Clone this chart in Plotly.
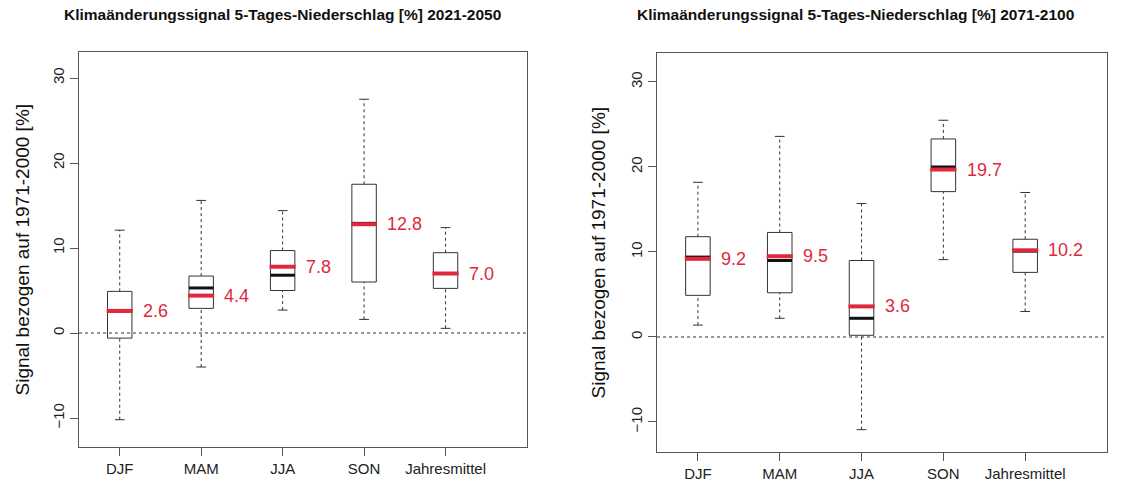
import plotly.graph_objects as go

W, H = 1133, 483

categories = ["DJF", "MAM", "JJA", "SON", "Jahresmittel"]
titles = ["Klimaänderungssignal 5-Tages-Niederschlag [%] 2021-2050",
          "Klimaänderungssignal 5-Tages-Niederschlag [%] 2071-2100"]
ylabel = "Signal bezogen auf 1971-2000 [%]"
yticks = [-10, 0, 10, 20, 30]

# 2021-2050
lo1 = [-10.2, -4.0, 2.7, 1.6, 0.55]
q1_1 = [-0.6, 2.9, 5.0, 6.0, 5.25]
med1 = [2.6, 5.3, 6.8, 12.9, 7.0]
q3_1 = [4.9, 6.7, 9.7, 17.5, 9.45]
hi1 = [12.1, 15.6, 14.4, 27.5, 12.4]
mean1 = [2.6, 4.4, 7.8, 12.8, 7.0]

# 2071-2100
lo2 = [1.4, 2.2, -10.9, 9.1, 3.0]
q1_2 = [4.9, 5.2, 0.2, 17.1, 7.6]
med2 = [9.4, 9.0, 2.2, 20.0, 10.1]
q3_2 = [11.8, 12.3, 9.0, 23.3, 11.5]
hi2 = [18.2, 23.6, 15.7, 25.5, 17.0]
mean2 = [9.2, 9.5, 3.6, 19.7, 10.2]

panels = [
    dict(lo=lo1, q1=q1_1, med=med1, q3=q3_1, hi=hi1, mean=mean1,
         xd=[79 / W, 527 / W], yd=[(H - 447) / H, (H - 52) / H], yr=[-13.41, 33.06],
         title_x=282 / W, ylab_x=22 / W),
    dict(lo=lo2, q1=q1_2, med=med2, q3=q3_2, hi=hi2, mean=mean2,
         xd=[657 / W, 1107 / W], yd=[(H - 452) / H, (H - 53) / H], yr=[-13.53, 33.41],
         title_x=855 / W, ylab_x=598 / W),
]

FONT = "Liberation Sans, Arial, Helvetica, sans-serif"
RED = "#e0283c"
DARK = "#333333"
BW = 0.15   # box half width
CW = 0.06   # cap half width
RW = 0.16   # red line half width

fig = go.Figure()
annotations = []
shapes = []

for k, p in enumerate(panels):
    xa = "x" if k == 0 else "x2"
    ya = "y" if k == 0 else "y2"
    xs = range(1, len(categories) + 1)
    wx, wy, cx, cy, bx, by, mx, my, rx, ry = [], [], [], [], [], [], [], [], [], []
    for i, lo, q1, md, q3, hi, mn in zip(xs, p["lo"], p["q1"], p["med"], p["q3"], p["hi"], p["mean"]):
        wx += [i, i, None, i, i, None]
        wy += [lo, q1, None, q3, hi, None]
        cx += [i - CW, i + CW, None, i - CW, i + CW, None]
        cy += [lo, lo, None, hi, hi, None]
        bx += [i - BW, i + BW, i + BW, i - BW, i - BW, None]
        by += [q1, q1, q3, q3, q1, None]
        mx += [i - BW, i + BW, None]
        my += [md, md, None]
        rx += [i - RW, i + RW, None]
        ry += [mn, mn, None]
        annotations.append(dict(x=i + 0.26, y=mn, xref=xa, yref=ya, text=f"{mn:.1f}",
                                showarrow=False, xanchor="left", yanchor="middle",
                                font=dict(family=FONT, size=18, color=RED)))
    fig.add_trace(go.Scatter(x=wx, y=wy, xaxis=xa, yaxis=ya, mode="lines",
                             line=dict(color=DARK, width=1, dash="3px,3px"), hoverinfo="skip"))
    fig.add_trace(go.Scatter(x=cx, y=cy, xaxis=xa, yaxis=ya, mode="lines",
                             line=dict(color=DARK, width=1), hoverinfo="skip"))
    fig.add_trace(go.Scatter(x=bx, y=by, xaxis=xa, yaxis=ya, mode="lines",
                             line=dict(color=DARK, width=1), hoverinfo="skip"))
    fig.add_trace(go.Scatter(x=mx, y=my, xaxis=xa, yaxis=ya, mode="lines",
                             line=dict(color="#111111", width=3), hoverinfo="skip"))
    fig.add_trace(go.Scatter(x=rx, y=ry, xaxis=xa, yaxis=ya, mode="lines",
                             line=dict(color=RED, width=4), hoverinfo="skip"))
    # zero line
    shapes.append(dict(type="line", xref=f"{xa} domain", yref=ya, x0=0, x1=1, y0=0, y1=0,
                       line=dict(color=DARK, width=1, dash="3px,3px")))
    # titles
    annotations.append(dict(x=p["title_x"], y=1 - 15 / H, xref="paper", yref="paper",
                            text=f"<b>{titles[k]}</b>", showarrow=False,
                            xanchor="center", yanchor="middle",
                            font=dict(family=FONT, size=15.5, color="#111111")))
    annotations.append(dict(x=p["ylab_x"], y=(p["yd"][0] + p["yd"][1]) / 2, xref="paper", yref="paper",
                            text=ylabel, textangle=-90, showarrow=False,
                            xanchor="center", yanchor="middle",
                            font=dict(family=FONT, size=19, color="#111111")))

axis_common = dict(showgrid=False, zeroline=False, showline=True, mirror=True,
                   linecolor="#555555", linewidth=1, ticks="outside", tickcolor="#555555",
                   ticklen=8, tickfont=dict(family=FONT, size=15, color="#222222"))

layout = dict(
    width=W, height=H, margin=dict(l=0, r=0, t=0, b=0),
    plot_bgcolor="white", paper_bgcolor="white", showlegend=False,
    annotations=annotations, shapes=shapes,
)
for k, p in enumerate(panels):
    sx = "" if k == 0 else "2"
    layout[f"xaxis{sx}"] = dict(axis_common, domain=p["xd"], range=[0.5, 6.0],
                                tickmode="array", tickvals=list(range(1, 6)), ticktext=categories,
                                anchor=f"y{sx}", fixedrange=True)
    layout[f"yaxis{sx}"] = dict(axis_common, domain=p["yd"], range=p["yr"],
                                tickmode="array", tickvals=yticks, tickangle=-90,
                                anchor=f"x{sx}", fixedrange=True)

fig.update_layout(**layout)
fig.write_html("out.html")
